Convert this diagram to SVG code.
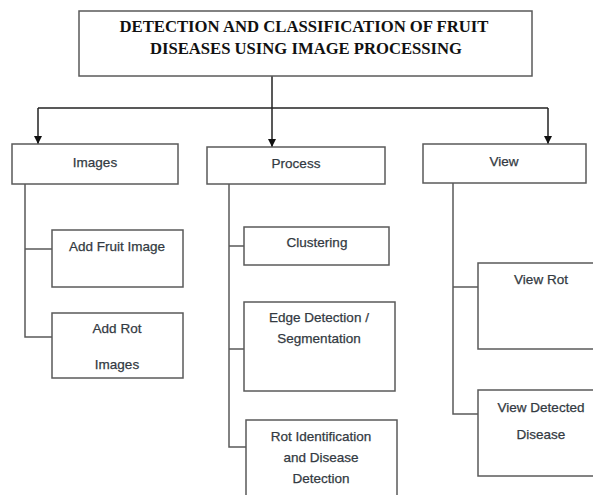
<svg xmlns="http://www.w3.org/2000/svg" width="593" height="495" viewBox="0 0 593 495">
<defs>
<style>
.box{fill:#fff;stroke:#5a5a5a;stroke-width:1.5}
.ln{fill:none;stroke:#5a5a5a;stroke-width:1.5}
.ar{fill:none;stroke:#222;stroke-width:1.5}
.t{font-family:"Liberation Sans",Arial,sans-serif;font-size:13.5px;fill:#333a42;stroke:#333a42;stroke-width:0.25;text-anchor:middle}
.h{font-family:"Liberation Serif","Times New Roman",serif;font-size:16px;font-weight:bold;fill:#111;text-anchor:middle}
</style>
<marker id="arr" viewBox="0 0 10 10" refX="10" refY="5" markerWidth="8" markerHeight="8" markerUnits="userSpaceOnUse" orient="auto">
<path d="M0,0 L10,5 L0,10 z" fill="#111"/>
</marker>
</defs>
<rect width="593" height="495" fill="#fff"/>
<g id="connectors">
<path class="ar" d="M272,76 V108"/>
<path class="ar" d="M38,108 H548"/>
<path class="ar" d="M38,108 V144" marker-end="url(#arr)"/>
<path class="ar" d="M272,108 V147" marker-end="url(#arr)"/>
<path class="ar" d="M548,108 V144" marker-end="url(#arr)"/>
<path class="ln" d="M25,184 V337 H52 M25,249 H52"/>
<path class="ln" d="M229,184 V447 H246 M229,246 H244 M229,349 H244"/>
<path class="ln" d="M453,183 V414 H478 M453,287 H478"/>
</g>
<g id="title">
<rect class="box" x="79" y="11" width="453" height="65"/>
<text class="h" x="304" y="32" textLength="369" lengthAdjust="spacingAndGlyphs">DETECTION AND CLASSIFICATION OF FRUIT</text>
<text class="h" x="306" y="54" textLength="312" lengthAdjust="spacingAndGlyphs">DISEASES USING IMAGE PROCESSING</text>
</g>
<g id="images">
<rect class="box" x="12" y="144" width="166" height="40"/>
<text class="t" x="95" y="167">Images</text>
</g>
<g id="process">
<rect class="box" x="207" y="147" width="178" height="37"/>
<text class="t" x="296" y="168">Process</text>
</g>
<g id="view">
<rect class="box" x="423" y="144" width="163" height="39"/>
<text class="t" x="504" y="166">View</text>
</g>
<g id="add-fruit">
<rect class="box" x="52" y="230" width="131" height="57"/>
<text class="t" x="117" y="251">Add Fruit Image</text>
</g>
<g id="add-rot">
<rect class="box" x="52" y="313" width="131" height="65"/>
<text class="t" x="117" y="333">Add Rot</text>
<text class="t" x="117" y="369">Images</text>
</g>
<g id="clustering">
<rect class="box" x="244" y="227" width="145" height="38"/>
<text class="t" x="317" y="247">Clustering</text>
</g>
<g id="edge">
<rect class="box" x="244" y="302" width="151" height="89"/>
<text class="t" x="319" y="322">Edge Detection /</text>
<text class="t" x="319" y="343">Segmentation</text>
</g>
<g id="rot-id">
<rect class="box" x="246" y="420" width="151" height="90"/>
<text class="t" x="321" y="441">Rot Identification</text>
<text class="t" x="321" y="462">and Disease</text>
<text class="t" x="321" y="483">Detection</text>
</g>
<g id="view-rot">
<rect class="box" x="478" y="263" width="126" height="86"/>
<text class="t" x="541" y="284">View Rot</text>
</g>
<g id="view-detected">
<rect class="box" x="478" y="390" width="126" height="86"/>
<text class="t" x="541" y="412">View Detected</text>
<text class="t" x="541" y="439">Disease</text>
</g>
</svg>
